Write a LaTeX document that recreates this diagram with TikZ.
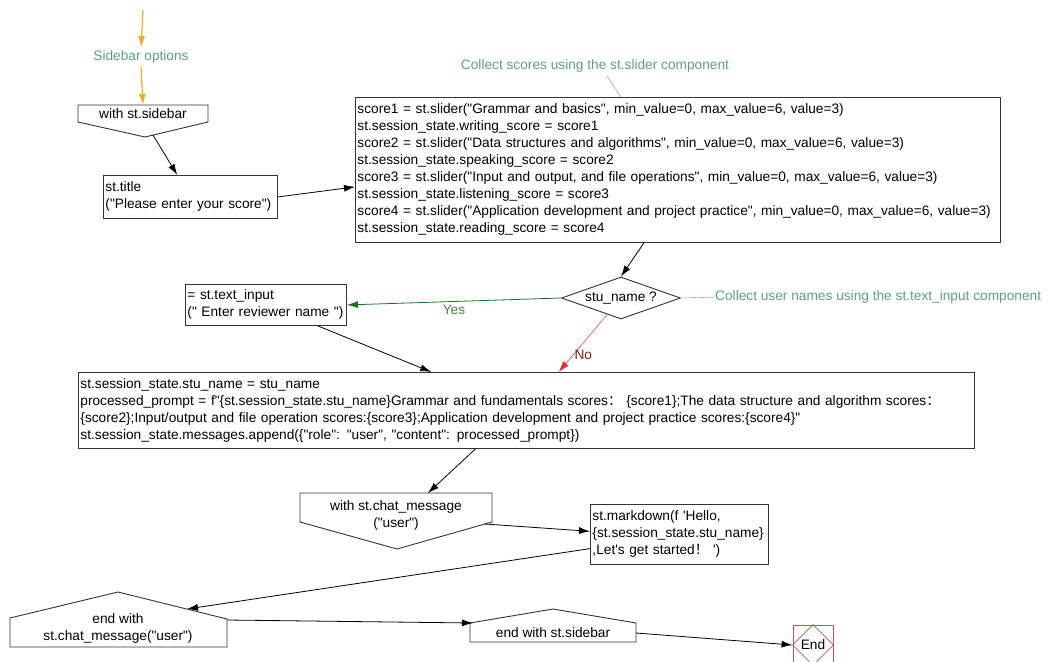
\documentclass[tikz,border=0pt]{standalone}
\usepackage{fontspec}
\setmainfont{Liberation Sans}[Ligatures=TeXOff]
\newfontfamily\cjk{Noto Sans CJK SC}
\usetikzlibrary{arrows.meta,shapes.geometric}
\definecolor{notecol}{RGB}{90,160,140}
\definecolor{yescol}{RGB}{30,115,30}
\definecolor{nocol}{RGB}{225,45,45}
\definecolor{endcol}{RGB}{195,85,85}
\definecolor{startcol}{RGB}{255,168,30}
\begin{document}
\begin{tikzpicture}[x=1pt,y=-1pt,font=\fontsize{13.7}{17}\selectfont,
  box/.style={draw=black!80,line width=.9pt,align=left,inner xsep=2pt,inner ysep=0pt,anchor=north west},
  outline/.style={draw=black!80,line width=.9pt},
  arr/.style={-{Latex[length=11pt,width=7pt]},line width=.8pt},
  note/.style={text=notecol}]
\path[fill=white,use as bounding box] (0,0) rectangle (1054,661);
\coordinate (start) at (143,10);
\node[note] (sbopt) at (141,57) {Sidebar options};
\node (sidebar) at (143,114) {with st.sidebar};
\draw[outline] (78,105) -- (208,105) -- (208,122) -- (145,137) -- (78,122) -- cycle;
\coordinate (sbtop) at (143,105);
\coordinate (sbtip) at (153,135);
\draw[arr,startcol,line width=1.2pt] (start) -- (sbopt.north);
\draw[arr,startcol,line width=1.2pt] (sbopt.south) -- (sbtop);
\node[box,minimum width=174pt,minimum height=43pt,text width=170pt] (title) at (103,175) {st.title\\("Please enter your score")};
\node[note] (scorenote) at (595,66) {Collect scores using the st.slider component};
\node[box,minimum width=645pt,minimum height=145pt,text width=641pt] (scores) at (355,97) {score1 = st.slider("Grammar and basics", min\_value=0, max\_value=6, value=3)\\st.session\_state.writing\_score = score1\\score2 = st.slider("Data structures and algorithms", min\_value=0, max\_value=6, value=3)\\st.session\_state.speaking\_score = score2\\score3 = st.slider("Input and output, and file operations", min\_value=0, max\_value=6, value=3)\\st.session\_state.listening\_score = score3\\score4 = st.slider("Application development and project practice", min\_value=0, max\_value=6, value=3)\\st.session\_state.reading\_score = score4};
\node[draw=black!80,line width=.9pt,diamond,aspect=2.8,minimum width=119pt,minimum height=42pt,inner sep=0pt] (cond) at (621,298) {stu\_name ?};
\node[note,anchor=west,inner sep=0pt] (namenote) at (715,297) {Collect user names using the st.text\_input component};
\node[box,minimum width=161pt,minimum height=41pt,text width=157pt] (textin) at (185,284) {= st.text\_input\\(" Enter reviewer name ")};
\node[box,minimum width=896pt,minimum height=76pt,text width=892pt] (prompt) at (78,372) {st.session\_state.stu\_name = stu\_name\\processed\_prompt = f"\{st.session\_state.stu\_name\}Grammar and fundamentals scores{\cjk ：} \{score1\};The data structure and algorithm scores{\cjk ：}\\\{score2\};Input/output and file operation scores:\{score3\};Application development and project practice scores:\{score4\}"\\st.session\_state.messages.append(\{"role": "user", "content": processed\_prompt\})};
\node[align=center] (chat) at (396,515) {with st.chat\_message\\("user")};
\draw[outline] (300,493) -- (492,493) -- (492,522) -- (397,549) -- (300,522) -- cycle;
\coordinate (chatin) at (428,493);
\coordinate (chatout) at (485,524);
\node[box,minimum width=178pt,minimum height=60pt,text width=174pt] (md) at (590,504) {st.markdown(f 'Hello,\\\{st.session\_state.stu\_name\}\\,Let's get started{\cjk ！} ')};
\node[align=center] (endchat) at (118,628) {end with\\st.chat\_message("user")};
\draw[outline] (10,647) -- (10,618) -- (118,592) -- (227,619) -- (227,647) -- cycle;
\coordinate (endchatin) at (187,609);
\coordinate (endchatout) at (227,620);
\node (endsb) at (553,633) {end with st.sidebar};
\draw[outline] (470,642) -- (470,623) -- (553,609) -- (636,623) -- (636,642) -- cycle;
\coordinate (endsbin) at (473,623);
\coordinate (endsbout) at (636,633);
\node[draw=endcol,line width=.8pt,minimum size=40pt,inner sep=0pt] (stop) at (813,645) {End};
\draw[endcol,line width=.8pt] (stop.north) -- (stop.east) -- (stop.south) -- (stop.west) -- cycle;
\draw[notecol] ([xshift=12pt]scorenote.south) -- (scores.128);
\draw[notecol] (cond.east) -- (namenote.west);
\draw[arr] (sbtip) -- (title.121);
\draw[arr] (title.east) -- (scores.183);
\draw[arr] (scores.245) -- (cond.north);
\draw[arr,yescol] (cond.west) -- node[below,text=yescol!85!white]{Yes} (textin.east);
\draw[arr,nocol,line width=.5pt] (cond.230) -- node[pos=.7,right,inner sep=1pt,text=nocol!60!black]{No} (prompt.50);
\draw[arr] (textin.-22) -- (prompt.158);
\draw[arr] (prompt.217) -- (chatin);
\draw[arr] (chatout) -- (md.178);
\draw[arr] (md.189) -- (endchatin);
\draw[arr] (endchatout) -- (endsbin);
\draw[arr] (endsbout) -- (stop.west);
\end{tikzpicture}
\end{document}
